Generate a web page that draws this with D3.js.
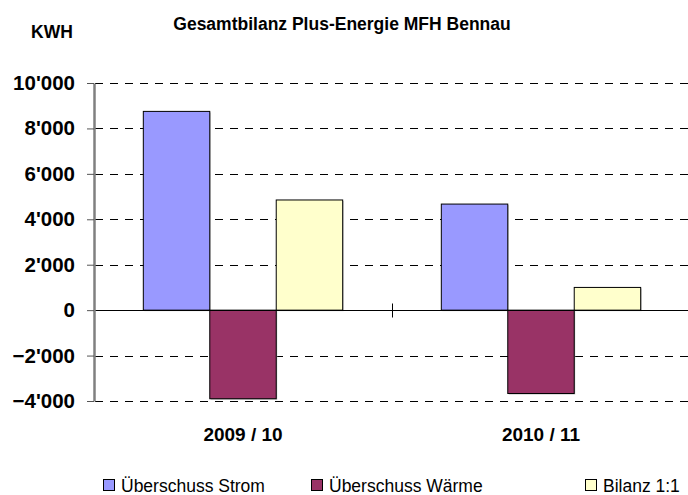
<!DOCTYPE html>
<html>
<head>
<meta charset="utf-8">
<script src="https://cdn.jsdelivr.net/npm/d3@7"></script>
<style>
  body { margin: 0; background: #fff; }
  svg text { font-family: "Liberation Sans", Arial, sans-serif; fill: #000; }
</style>
</head>
<body>
<div id="chart"></div>
<script>
var categories = ['2009 / 10', '2010 / 11'];
var seriesNames = ['Überschuss Strom', 'Überschuss Wärme', 'Bilanz 1:1'];
var seriesColors = ['#9999ff', '#993366', '#ffffcc'];
var stromValues = [8750, 4670];
var waermeValues = [-3900, -3670];
var bilanzValues = [4850, 1000];
var yTicks = [-4000, -2000, 0, 2000, 4000, 6000, 8000, 10000];

(function () {
  var width = 688, height = 495;
  var seriesValues = [stromValues, waermeValues, bilanzValues];

  var svg = d3.select('#chart').append('svg')
    .attr('width', width)
    .attr('height', height);

  var x0 = d3.scaleBand().domain(categories).range([94, 690]).paddingInner(0).paddingOuter(0);
  var x1 = d3.scaleBand().domain(seriesNames).range([0, x0.bandwidth()]).paddingInner(0).paddingOuter(0.742);
  var y = d3.scaleLinear().domain([-4000, 10000]).range([401, 83]);

  var locale = d3.formatLocale({ decimal: '.', thousands: "'", grouping: [3], currency: ['', ''] });
  var fmt = locale.format(',');

  // dashed gridlines
  svg.append('g').attr('class', 'grid')
    .selectAll('line')
    .data(yTicks.filter(function (d) { return d !== 0; }))
    .enter().append('line')
    .attr('x1', 95).attr('x2', 688)
    .attr('y1', function (d) { return Math.round(y(d)) + 0.5; })
    .attr('y2', function (d) { return Math.round(y(d)) + 0.5; })
    .attr('stroke', '#000')
    .attr('stroke-width', 1)
    .attr('stroke-dasharray', '8,7');

  // bars
  var rows = categories.map(function (c, i) {
    return seriesNames.map(function (s, j) {
      return { cat: c, name: s, value: seriesValues[j][i], color: seriesColors[j] };
    });
  });

  var group = svg.append('g').attr('class', 'bars')
    .selectAll('g')
    .data(rows)
    .enter().append('g')
    .attr('transform', function (d, i) { return 'translate(' + x0(categories[i]) + ',0)'; });

  // soft shadow
  group.selectAll('rect.shadow')
    .data(function (d) { return d; })
    .enter().append('rect')
    .attr('class', 'shadow')
    .attr('x', function (d) { return x1(d.name) + 1; })
    .attr('y', function (d) { return Math.min(y(d.value), y(0)) + 1; })
    .attr('width', x1.bandwidth())
    .attr('height', function (d) { return Math.abs(y(d.value) - y(0)); })
    .attr('fill', '#c0c0c0');

  group.selectAll('rect.bar')
    .data(function (d) { return d; })
    .enter().append('rect')
    .attr('class', 'bar')
    .attr('x', function (d) { return x1(d.name); })
    .attr('y', function (d) { return Math.min(y(d.value), y(0)); })
    .attr('width', x1.bandwidth())
    .attr('height', function (d) { return Math.abs(y(d.value) - y(0)); })
    .attr('fill', function (d) { return d.color; })
    .attr('stroke', '#000')
    .attr('stroke-width', 1);

  // zero line + category dividers
  var y0 = Math.round(y(0)) + 0.5;
  svg.append('line')
    .attr('x1', 94).attr('x2', 688)
    .attr('y1', y0).attr('y2', y0)
    .attr('stroke', '#000').attr('stroke-width', 1);

  svg.append('g').selectAll('line')
    .data(categories.slice(1))
    .enter().append('line')
    .attr('x1', function (d) { return Math.round(x0(d)) + 0.5; })
    .attr('x2', function (d) { return Math.round(x0(d)) + 0.5; })
    .attr('y1', y0 - 7).attr('y2', y0 + 7)
    .attr('stroke', '#000');

  // y axis
  var yAxis = svg.append('g')
    .attr('transform', 'translate(94,0)')
    .call(d3.axisLeft(y).tickValues(yTicks).tickFormat(fmt).tickSize(7).tickSizeOuter(0).tickPadding(12));
  yAxis.select('.domain').attr('stroke', '#808080').attr('stroke-width', 2.5);
  yAxis.selectAll('.tick line').attr('stroke', '#555');
  yAxis.selectAll('.tick text')
    .style('font-size', '20.5px')
    .style('font-weight', 'bold')
    .style('font-family', '"Liberation Sans", Arial, sans-serif');

  // category labels
  svg.append('g').selectAll('text')
    .data(categories)
    .enter().append('text')
    .attr('x', function (d) { return x0(d) + x0.bandwidth() / 2; })
    .attr('y', 441)
    .attr('text-anchor', 'middle')
    .style('font-size', '19px')
    .style('font-weight', 'bold')
    .text(function (d) { return d; });

  // title and unit
  svg.append('text')
    .attr('x', 342).attr('y', 30)
    .attr('text-anchor', 'middle')
    .style('font-size', '17.5px')
    .style('font-weight', 'bold')
    .text('Gesamtbilanz Plus-Energie MFH Bennau');

  svg.append('text')
    .attr('x', 31).attr('y', 38)
    .style('font-size', '17.5px')
    .style('font-weight', 'bold')
    .text('KWH');

  // legend
  var legendX = [103, 311, 585];
  var legend = svg.append('g').selectAll('g')
    .data(seriesNames)
    .enter().append('g')
    .attr('transform', function (d, i) { return 'translate(' + legendX[i] + ',479)'; });

  legend.append('rect')
    .attr('x', 0.5).attr('y', 0.5)
    .attr('width', 11).attr('height', 11)
    .attr('fill', function (d, i) { return seriesColors[i]; })
    .attr('stroke', '#000');

  legend.append('text')
    .attr('x', 18).attr('y', 12.5)
    .style('font-size', '17.5px')
    .text(function (d) { return d; });
})();
</script>
</body>
</html>
